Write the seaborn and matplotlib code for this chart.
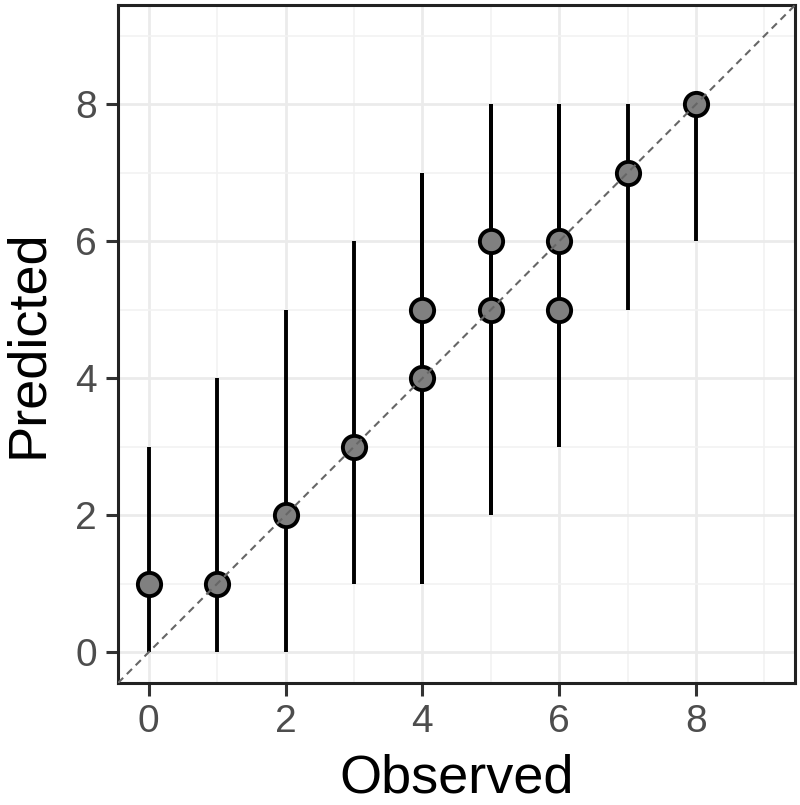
import numpy as np
import pandas as pd
import matplotlib
matplotlib.use("Agg")
import matplotlib.pyplot as plt
from matplotlib.ticker import MultipleLocator
import seaborn as sns

# Observed vs predicted with interval ranges
observed = [0, 1, 2, 3, 4, 4, 5, 5, 6, 6, 7, 8]
predicted = [1, 1, 2, 3, 4, 5, 5, 6, 5, 6, 7, 8]
lower = [0, 0, 0, 1, 1, 1, 2, 2, 3, 3, 5, 6]
upper = [3, 4, 5, 6, 7, 7, 8, 8, 8, 8, 8, 8]

df = pd.DataFrame({"Observed": observed, "Predicted": predicted,
                   "lower": lower, "upper": upper})

sns.set_theme(style="white")
plt.rcParams["font.family"] = ["Liberation Sans", "DejaVu Sans"]

fig = plt.figure(figsize=(8, 8.05), dpi=100)
ax = fig.add_axes([0.1475, 0.1516, 0.8465, 0.8422])

# intervals
ax.vlines(df["Observed"], df["lower"], df["upper"], color="black",
          linewidth=2.8, zorder=2)

sns.scatterplot(data=df, x="Observed", y="Predicted", ax=ax, s=280,
                color="#808080", edgecolor="black", linewidth=2.8, zorder=3)

# 1:1 reference line
ax.axline((0, 0), slope=1, color="#666666", linestyle=(0, (3.5, 2.5)),
          linewidth=1.5, zorder=4)

ax.set_xlim(-0.45, 9.45)
ax.set_ylim(-0.45, 9.45)
ax.xaxis.set_major_locator(MultipleLocator(2))
ax.yaxis.set_major_locator(MultipleLocator(2))
ax.xaxis.set_minor_locator(MultipleLocator(1))
ax.yaxis.set_minor_locator(MultipleLocator(1))

ax.grid(which="major", color="#ebebeb", linewidth=2.0, zorder=0)
ax.grid(which="minor", color="#f2f2f2", linewidth=1.2, zorder=0)
ax.set_axisbelow(True)

for sp in ax.spines.values():
    sp.set_color("#222222")
    sp.set_linewidth(2.2)

ax.tick_params(which="major", direction="out", length=9, width=2.2,
               color="#333333", labelsize=28, labelcolor="#4d4d4d", pad=6,
               bottom=True, left=True)
ax.tick_params(which="minor", length=0)

ax.set_xlabel("Observed", fontsize=39, color="black", labelpad=10)
ax.set_ylabel("Predicted", fontsize=39, color="black", labelpad=16)

fig.savefig("out.png", dpi=100)
